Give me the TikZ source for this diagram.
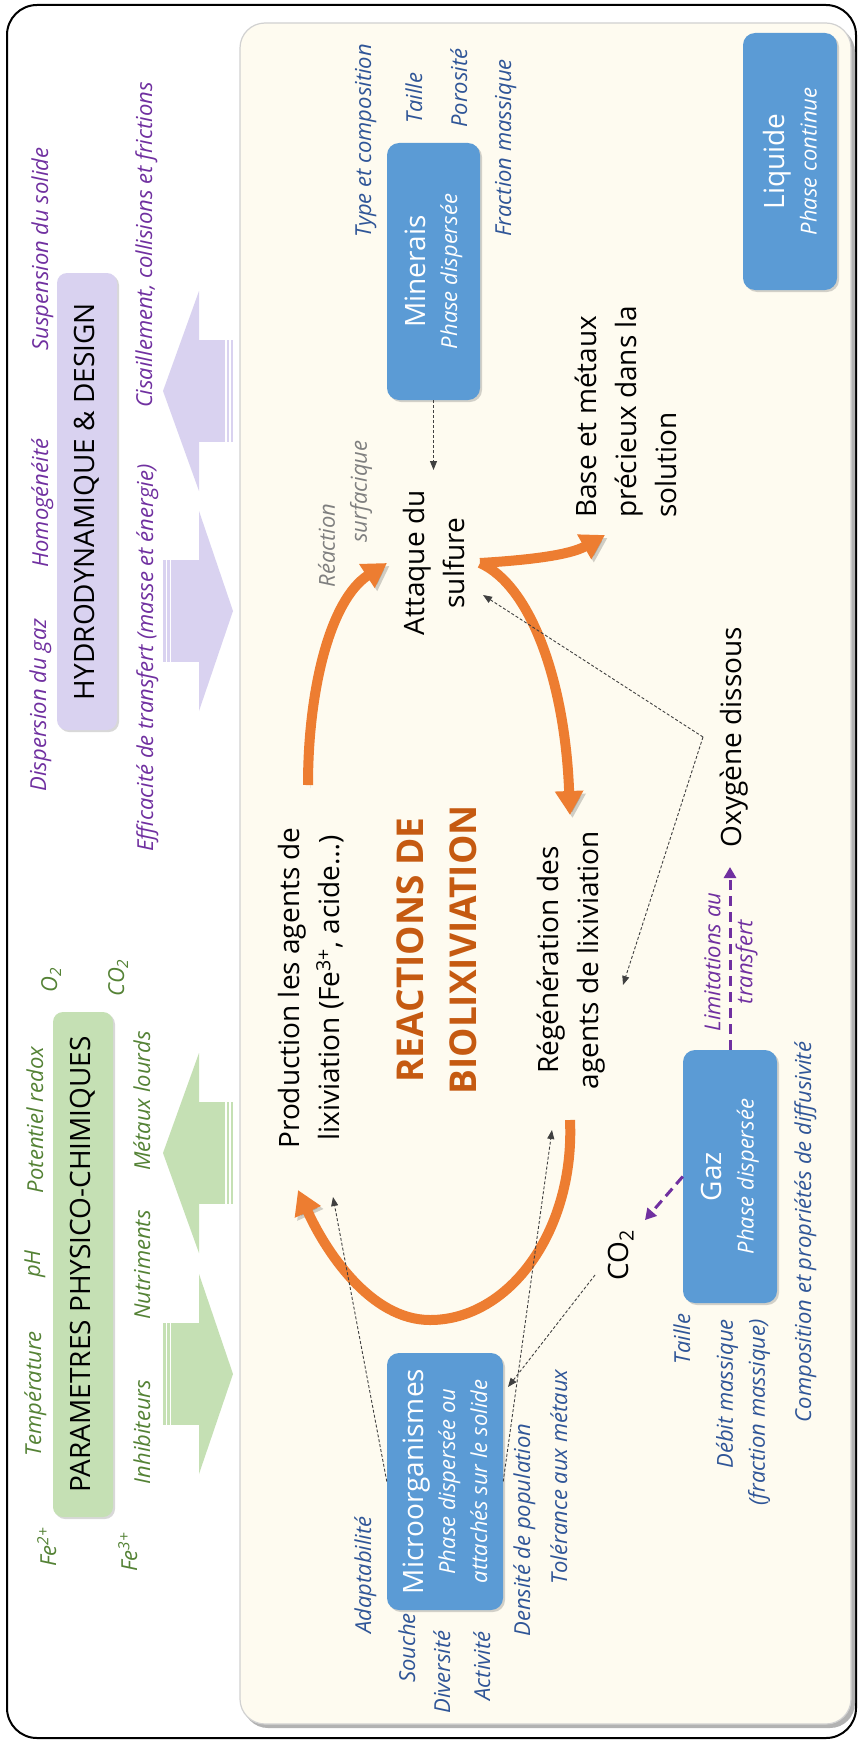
\documentclass[tikz,border=0pt]{standalone}
\usepackage{fontspec}
\setmainfont{Open Sans}
\usetikzlibrary{arrows.meta,shadows}
\definecolor{cBlue}{HTML}{5B9BD5}
\definecolor{cOrange}{HTML}{ED7D31}
\definecolor{cOrTxt}{HTML}{C55A11}
\definecolor{cPurple}{HTML}{7030A0}
\definecolor{cGrTxt}{HTML}{548235}
\definecolor{cBlTxt}{HTML}{2F5597}
\definecolor{cGreen}{HTML}{C5E0B4}
\definecolor{cLav}{HTML}{D9D2F0}
\definecolor{cCream}{HTML}{FEFBF0}
\definecolor{cGray}{HTML}{7F7F7F}
\definecolor{cDash}{HTML}{404040}
\newcommand\boxsub{\fontsize{22}{28}\selectfont\itshape}
\newcommand\stripL[2]{%
  \fill[#1] (163,#2) -- (199,{#2-100}) -- (199,{#2+100}) -- cycle;
  \fill[#1] (198,{#2-51}) rectangle (225,{#2+51});
  \fill[#1] (226.5,{#2-51}) rectangle (229,{#2+51});
  \fill[#1] (230.5,{#2-51}) rectangle (233,{#2+51});}
\newcommand\stripR[2]{%
  \fill[#1] (233,#2) -- (199,{#2-100}) -- (199,{#2+100}) -- cycle;
  \fill[#1] (171,{#2-51}) rectangle (200,{#2+51});
  \fill[#1] (167,{#2-51}) rectangle (169.5,{#2+51});
  \fill[#1] (163,{#2-51}) rectangle (165.5,{#2+51});}
\begin{document}
\begin{tikzpicture}[x=1pt,y=-1pt,
  lab/.style={rotate=90, inner sep=0pt, anchor=base, font=\fontsize{22}{32}\selectfont\itshape},
  plab/.style={lab, text=cPurple},
  glab/.style={lab, text=cGrTxt},
  blab/.style={lab, text=cBlTxt},
  mtxt/.style={rotate=90, inner sep=0pt, align=center, font=\fontsize{28}{40}\selectfont},
  rtxt/.style={rotate=90, inner sep=0pt, align=center, text=cOrTxt, font=\fontsize{37}{53}\selectfont\bfseries},
  bbox/.style={rotate=90, rounded corners=12pt, fill=cBlue, text=white, align=center, inner sep=0pt,
    font=\fontsize{28}{32}\selectfont, drop shadow={shadow xshift=2pt, shadow yshift=-2pt, opacity=.35}},
  gbox/.style={rotate=90, rounded corners=10pt, fill=cGreen, inner sep=0pt,
    font=\fontsize{28}{34}\selectfont, drop shadow={shadow xshift=2pt, shadow yshift=-2pt, opacity=.3}},
  lbox/.style={gbox, fill=cLav},
  oarr/.style={draw=cOrange, line width=10pt, -{Triangle[length=24pt,width=27pt]},
    preaction={draw=black, draw opacity=.18, fill opacity=.18, transform canvas={shift={(2.5pt,-3pt)}}}},
  garr/.style={draw=cDash, line width=0.9pt, dash pattern=on 3pt off 2pt, -{Triangle[length=9pt,width=7pt]}},
  parr/.style={draw=cPurple, line width=3pt, dash pattern=on 10pt off 6pt, -{Triangle[length=11pt,width=12pt]}}
]
\useasboundingbox (0,0) rectangle (861,1742);
% frames
\draw[line width=2pt, rounded corners=30pt, fill=white] (7,5) rectangle (856,1738);
\fill[black!30, rounded corners=25pt] (243,27) rectangle (855,1728);
\draw[draw=black!18, line width=1.2pt, fill=cCream, rounded corners=25pt] (240,23) rectangle (851,1724);

% striped block arrows
\stripL{cLav}{391}
\stripR{cLav}{611}
\stripL{cGreen}{1153}
\stripR{cGreen}{1374}

% header boxes
\node[gbox, minimum width=505pt, minimum height=60pt] (param) at (83,1264.5) {PARAMETRES PHYSICO-CHIMIQUES};
\node[lbox, minimum width=457pt, minimum height=60pt] (hydro) at (87,501.5) {HYDRODYNAMIQUE \& DESIGN};

% purple labels
\node[plab] (susp) at (48,249) {Suspension du solide};
\node[plab] (homo) at (48,503) {Homogénéité};
\node[plab] (disp) at (46,705) {Dispersion du gaz};
\node[plab] (cisa) at (152,245) {Cisaillement, collisions et frictions};
\node[plab] (effi) at (153,658) {Efficacité de transfert (masse et énergie)};

% green labels
\node[glab] (fe2) at (56,1547) {Fe\textsuperscript{2+}};
\node[glab] (temp) at (41,1394) {Température};
\node[glab] (ph) at (40,1264) {pH};
\node[glab] (redox) at (43,1120) {Potentiel redox};
\node[glab] (o2) at (57,980) {O\textsubscript{2}};
\node[glab] (fe3) at (137,1552) {Fe\textsuperscript{3+}};
\node[glab] (inhib) at (150,1432) {Inhibiteurs};
\node[glab] (nutri) at (150,1265) {Nutriments};
\node[glab] (metl) at (150,1101) {Métaux lourds};
\node[glab] (co2g) at (124,978) {CO\textsubscript{2}};

% phase boxes
\node[bbox, minimum width=257pt, minimum height=93pt] (mine) at (433.5,271.5) {Minerais\\{\boxsub Phase dispersée}};
\node[bbox, minimum width=257pt, minimum height=94pt] (liq) at (790,161.5) {Liquide\\{\boxsub Phase continue}};
\node[bbox, minimum width=253pt, minimum height=94pt] (gaz) at (730,1176.5) {Gaz\\{\boxsub Phase dispersée}};
\node[bbox, minimum width=257pt, minimum height=116pt] (micro) at (445,1481.5) {Microorganismes\\{\boxsub Phase dispersée ou}\\{\boxsub attachés sur le solide}};

% blue labels
\node[blab] (type) at (371,141) {Type et composition};
\node[blab] (tail) at (422,98) {Taille};
\node[blab] (poro) at (467,88) {Porosité};
\node[blab] (frac) at (511,148) {Fraction massique};
\node[blab] (adap) at (371,1575) {Adaptabilité};
\node[blab] (souc) at (415,1648) {Souche};
\node[blab] (dive) at (450,1672) {Diversité};
\node[blab] (acti) at (490,1666) {Activité};
\node[blab] (dens) at (530,1530) {Densité de population};
\node[blab] (tole) at (567,1477) {Tolérance aux métaux};
\node[blab] (taig) at (690,1339) {Taille};
\node[blab, anchor=east, align=right] (debi) at (743,1319) {Débit massique\\(fraction massique)};
\node[blab] (comp) at (811,1232) {Composition et propriétés de diffusivité};

% other labels
\node[lab, text=cPurple, anchor=center, align=center] (limi) at (731,962) {Limitations au\\transfert};
\node[lab, text=cGray, anchor=center, align=left] (reacs) at (345,514) {Réaction\\\hspace*{45pt}surfacique};

% main texts
\node[mtxt] (prod) at (311,988) {Production les agents de\\lixiviation (Fe\textsuperscript{3+}, acide…)};
\node[mtxt] (atta) at (434,563) {Attaque du\\sulfure};
\node[mtxt, anchor=west, align=left] (base) at (626,518) {Base et métaux\\précieux dans la\\solution};
\node[mtxt] (rege) at (571,960) {Régénération des\\agents de lixiviation};
\node[rtxt] (reac) at (437,950) {REACTIONS DE\\BIOLIXIVIATION};
\node[mtxt, anchor=base] (oxyg) at (741,737) {Oxygène dissous};
\node[mtxt, anchor=base] (co2) at (628,1255) {CO\textsubscript{2}};

% orange arrows
\coordinate (pA) at (308,785);
\coordinate (pB) at (387,563);
\draw[oarr] (pA) .. controls (308,690) and (330,600) .. (pB);
\coordinate (aS) at (480,563);
\coordinate (bT) at (605,535);
\coordinate (rT) at (570,815);
\draw[oarr] (aS) .. controls (530,560) and (570,555) .. (bT);
\draw[oarr] (aS) .. controls (530,585) and (565,680) .. (rT);
\coordinate (cS) at (570,1120);
\coordinate (cM) at (430,1320);
\coordinate (cT) at (298,1190);
\draw[oarr] (cS) .. controls (575,1230) and (510,1320) .. (cM) .. controls (370,1320) and (325,1250) .. (cT);

% gray dashed arrows
\coordinate (mT) at (433.5,470);
\draw[garr] (mine.west) -- (mT);
\coordinate (ox) at (703,737);
\coordinate (oxA) at (483,595);
\coordinate (oxR) at (623,985);
\draw[garr] (ox) -- (oxA);
\draw[garr] (ox) -- (oxR);
\coordinate (mP) at (333,1197);
\coordinate (mR) at (552,1130);
\draw[garr] (micro.north) -- (mP);
\draw[garr] (micro.south) -- (mR);
\coordinate (cO) at (595,1275);
\coordinate (cMi) at (508,1387);
\draw[garr] (cO) -- (cMi);

% purple dashed arrows
\coordinate (lT) at (730,867);
\draw[parr] (gaz.east) -- (lT);
\coordinate (gC) at (645,1220);
\draw[parr] (gaz.north) -- (gC);
\end{tikzpicture}
\end{document}
